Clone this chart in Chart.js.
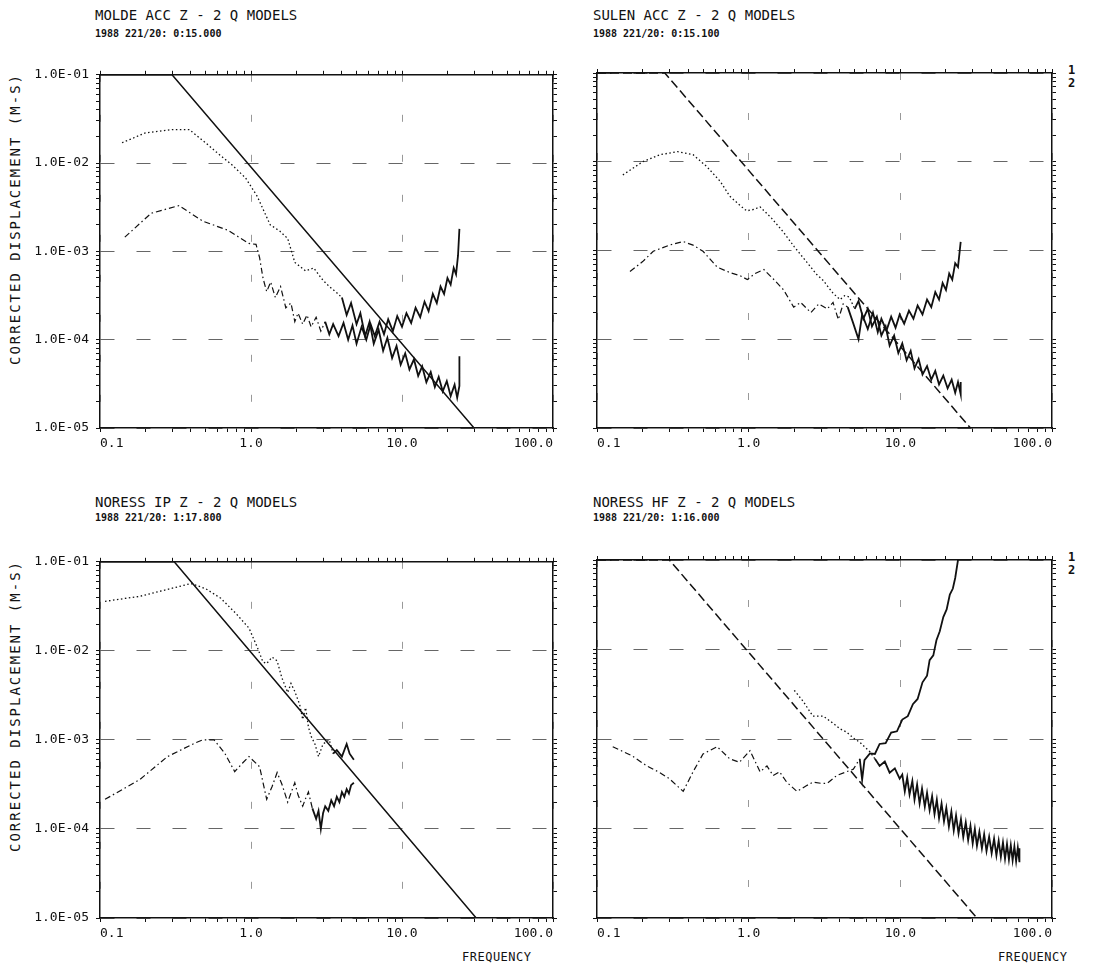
<!DOCTYPE html>
<html>
<head>
<meta charset="utf-8">
<script src="https://cdn.jsdelivr.net/npm/chart.js@4.4.1/dist/chart.umd.min.js"></script>
<style>
  body { margin: 0; background: #fff; width: 1094px; height: 973px; position: relative; overflow: hidden;
         font-family: "DejaVu Sans Mono", monospace; color: #111; }
  canvas { position: absolute; }
  .t { position: absolute; white-space: nowrap; line-height: 1; }
  .title { font-size: 14px; }
  .sub { font-size: 10px; font-weight: bold; }
  .ytitle { font-size: 14px; letter-spacing: 2px; transform: rotate(-90deg); transform-origin: 0 0; }
  .curve { font-size: 12px; font-weight: bold; }
  .xtitle { font-size: 12px; letter-spacing: 0.5px; }
</style>
</head>
<body>
<div class="t title" style="left:95px;top:8px">MOLDE ACC Z - 2 Q MODELS</div>
<div class="t sub" style="left:95px;top:29px">1988 221/20: 0:15.000</div>
<div class="t title" style="left:593px;top:8px">SULEN ACC Z - 2 Q MODELS</div>
<div class="t sub" style="left:593px;top:29px">1988 221/20: 0:15.100</div>
<div class="t title" style="left:95px;top:495px">NORESS IP Z - 2 Q MODELS</div>
<div class="t sub" style="left:95px;top:513px">1988 221/20: 1:17.800</div>
<div class="t title" style="left:593px;top:495px">NORESS HF Z - 2 Q MODELS</div>
<div class="t sub" style="left:593px;top:513px">1988 221/20: 1:16.000</div>

<div class="t ytitle" style="left:8px;top:365px">CORRECTED DISPLACEMENT (M-S)</div>
<div class="t ytitle" style="left:8px;top:852px">CORRECTED DISPLACEMENT (M-S)</div>

<div class="t curve" style="left:1068px;top:64px">1</div>
<div class="t curve" style="left:1068px;top:77px">2</div>
<div class="t curve" style="left:1068px;top:551px">1</div>
<div class="t curve" style="left:1068px;top:564px">2</div>

<div class="t xtitle" style="left:462px;top:951px">FREQUENCY</div>
<div class="t xtitle" style="left:998px;top:951px">FREQUENCY</div>

<canvas id="molde" width="575" height="420" style="left:0;top:60px"></canvas>
<canvas id="sulen" width="519" height="420" style="left:575px;top:60px"></canvas>
<canvas id="noressIp" width="575" height="426" style="left:0;top:547px"></canvas>
<canvas id="noressHf" width="519" height="426" style="left:575px;top:547px"></canvas>

<script>
// axis ticks
const xMajor = [0.1, 1, 10, 100];
const xMajorLabels = ["0.1", "1.0", "10.0", "100.0"];
const yMajor = [1e-5, 1e-4, 1e-3, 1e-2, 1e-1];
const yMajorLabels = ["1.0E-05", "1.0E-04", "1.0E-03", "1.0E-02", "1.0E-01"];
const mantissas = [1, 2, 3, 4, 5, 6, 7, 8, 9];

// MOLDE ACC Z
const moldeModelFreq = [0.1, 0.3, 30, 100];
const moldeModelDisp = [1e-1, 1e-1, 1e-5, 1e-5];
const molde1Freq = [0.14, 0.2, 0.3, 0.39, 0.5, 0.6, 0.75, 0.92, 1.1, 1.34, 1.55, 1.75, 1.95, 2.3, 2.6, 3.0, 3.3, 3.7,
  4.0, 4.3, 4.6, 5.0, 5.3, 5.7, 6.1, 6.5, 7.0, 7.5, 8.0, 8.6, 9.2, 9.8, 10.5, 11.2, 12, 12.8, 13.6, 14.5,
  15.5, 16.5, 17.5, 18.6, 19.8, 21, 22.3, 23.2, 24, 24];
const molde1Disp = [0.017, 0.022, 0.024, 0.024, 0.017, 0.013, 0.0095, 0.0068, 0.0042, 0.002, 0.0017, 0.0014, 0.00075, 0.0006, 0.00065, 0.00047, 0.0004, 0.00034,
  3.0e-4, 1.9e-4, 2.6e-4, 1.5e-4, 2.0e-4, 1.1e-4, 1.6e-4, 9e-5, 1.3e-4, 7.5e-5, 1.05e-4, 6.2e-5, 8.5e-5, 5.2e-5, 7e-5, 4.6e-5, 6e-5, 3.9e-5, 5e-5, 3.3e-5,
  4.3e-5, 2.9e-5, 3.8e-5, 2.6e-5, 3.4e-5, 2.3e-5, 3.1e-5, 2.2e-5, 3e-5, 6.5e-5];
const molde2Freq = [0.146, 0.218, 0.333, 0.48, 0.7, 0.97, 1.08, 1.14, 1.2, 1.27, 1.35, 1.45, 1.57, 1.7, 1.84, 1.95, 2.05, 2.2, 2.35, 2.5,
  2.7, 2.9, 3.1, 3.3, 3.5, 3.8, 4.1, 4.4, 4.7, 5.0, 5.4, 5.8, 6.2, 6.6, 7.1, 7.6, 8.1, 8.7, 9.3, 10,
  10.7, 11.5, 12.3, 13.2, 14.1, 15, 16, 17, 18, 19, 20, 21, 22, 22.8, 23.5, 24];
const molde2Disp = [1.45e-3, 2.7e-3, 3.3e-3, 2.2e-3, 1.74e-3, 1.23e-3, 1.2e-3, 8.5e-4, 5e-4, 3.5e-4, 4.5e-4, 3e-4, 4e-4, 2.3e-4, 2.6e-4, 1.6e-4, 2e-4, 1.5e-4, 1.9e-4, 1.4e-4,
  1.8e-4, 1.25e-4, 1.6e-4, 1.15e-4, 1.5e-4, 1.1e-4, 1.55e-4, 1.0e-4, 1.45e-4, 9e-5, 1.4e-4, 1.0e-4, 1.5e-4, 1.1e-4, 1.6e-4, 1.15e-4, 1.7e-4, 1.25e-4, 1.85e-4, 1.4e-4,
  2.0e-4, 1.55e-4, 2.3e-4, 1.8e-4, 2.7e-4, 2.1e-4, 3.3e-4, 2.6e-4, 4e-4, 3.3e-4, 5e-4, 4.2e-4, 6.5e-4, 5.5e-4, 9e-4, 1.8e-3];

// SULEN ACC Z
const sulenModelFreq = [0.1, 0.28, 29, 100];
const sulenModelDisp = [1e-1, 1e-1, 1e-5, 1e-5];
const sulen1Freq = [0.148, 0.2, 0.26, 0.34, 0.43, 0.53, 0.65, 0.75, 0.88, 0.97, 1.08, 1.19, 1.42, 1.7, 2.0, 2.4, 2.8, 3.1, 3.3, 3.6,
  4.0, 4.3, 4.6, 5.0, 5.3, 5.7, 6.1, 6.5, 7.0, 7.5, 8.0, 8.5, 9.1, 9.7, 10.3, 11, 11.7, 12.4, 13.2, 14,
  15, 16, 17, 18, 19.2, 20.5, 21.8, 23, 24, 25, 25];
const sulen1Disp = [7.1e-3, 1e-2, 1.2e-2, 1.3e-2, 1.2e-2, 8.8e-3, 6e-3, 4.1e-3, 3.2e-3, 2.8e-3, 2.9e-3, 3.1e-3, 2.3e-3, 1.6e-3, 1.1e-3, 7.5e-4, 5.4e-4, 4.6e-4, 4e-4, 3.3e-4,
  2.8e-4, 3.1e-4, 3e-4, 2.2e-4, 2.7e-4, 1.7e-4, 2.2e-4, 1.4e-4, 1.8e-4, 1.1e-4, 1.4e-4, 8.5e-5, 1.1e-4, 7e-5, 9e-5, 5.8e-5, 7.4e-5, 4.7e-5, 6e-5, 4e-5,
  5e-5, 3.5e-5, 4.4e-5, 3.1e-5, 3.9e-5, 2.8e-5, 3.5e-5, 2.5e-5, 3.3e-5, 2.4e-5, 3.3e-5];
const sulen2Freq = [0.165, 0.2, 0.235, 0.3, 0.37, 0.43, 0.5, 0.62, 0.76, 0.88, 0.98, 1.1, 1.26, 1.45, 1.7, 1.98, 2.2, 2.57, 2.9, 3.3,
  3.6, 3.9, 4.2, 4.5, 4.9, 5.3, 5.6, 6.1, 6.6, 7.1, 7.5, 8.1, 8.7, 9.3, 9.9, 10.6, 11.4, 12.2, 13, 14,
  15, 16, 17, 18, 19, 20, 21, 22, 23, 24, 25];
const sulen2Disp = [5.8e-4, 7.5e-4, 9.8e-4, 1.15e-3, 1.26e-3, 1.15e-3, 9.8e-4, 6.5e-4, 5.6e-4, 5.2e-4, 4.7e-4, 5.5e-4, 6.1e-4, 4.8e-4, 3.6e-4, 2.3e-4, 2.6e-4, 2e-4, 2.5e-4, 2.2e-4,
  2.6e-4, 1.67e-4, 2.5e-4, 2.3e-4, 1.5e-4, 1e-4, 1.9e-4, 1.3e-4, 2e-4, 1.2e-4, 1.7e-4, 1.25e-4, 1.8e-4, 1.35e-4, 1.9e-4, 1.5e-4, 2.1e-4, 1.7e-4, 2.4e-4, 1.9e-4,
  2.8e-4, 2.3e-4, 3.4e-4, 2.8e-4, 4.3e-4, 3.6e-4, 5.5e-4, 4.7e-4, 7.2e-4, 6.5e-4, 1.25e-3];

// NORESS IP Z
const ipModelFreq = [0.1, 0.31, 31, 100];
const ipModelDisp = [1e-1, 1e-1, 1e-5, 1e-5];
const ip1Freq = [0.108, 0.184, 0.28, 0.4, 0.5, 0.63, 0.8, 0.97, 1.1, 1.2, 1.27, 1.38, 1.49, 1.6, 1.75, 1.84, 1.95, 2.1, 2.2, 2.3,
  2.4, 2.5, 2.65, 2.8, 3.0, 3.3, 3.5, 3.7, 4.0, 4.3, 4.5, 4.8];
const ip1Disp = [0.036, 0.041, 0.049, 0.057, 0.05, 0.039, 0.026, 0.018, 0.011, 0.0075, 0.0072, 0.0085, 0.0077, 0.005, 0.0034, 0.0043, 0.0035, 0.0025, 0.0017, 0.0023,
  0.0014, 0.0011, 0.0009, 0.00065, 0.0009, 0.001, 0.0007, 0.00077, 0.00065, 0.0009, 0.0007, 0.0006];
const ip2Freq = [0.108, 0.184, 0.28, 0.43, 0.48, 0.57, 0.67, 0.78, 0.88, 0.97, 1.14, 1.27, 1.38, 1.49, 1.6, 1.75, 1.85, 1.95, 2.05, 2.2,
  2.3, 2.4, 2.55, 2.7, 2.8, 2.9, 3.0, 3.1, 3.25, 3.4, 3.55, 3.7, 3.85, 4.0, 4.15, 4.3, 4.45, 4.6, 4.8];
const ip2Disp = [2.15e-4, 3.6e-4, 6.5e-4, 9.3e-4, 1e-3, 1e-3, 7.1e-4, 4.4e-4, 5.5e-4, 6.5e-4, 5e-4, 2.15e-4, 3e-4, 4.3e-4, 3.2e-4, 2e-4, 2.6e-4, 3.3e-4, 2.4e-4, 1.8e-4,
  2.2e-4, 2.6e-4, 1.7e-4, 1.3e-4, 1.6e-4, 1e-4, 1.5e-4, 1.8e-4, 1.6e-4, 2.1e-4, 1.8e-4, 2.3e-4, 2.0e-4, 2.6e-4, 2.3e-4, 2.8e-4, 2.5e-4, 3.1e-4, 3.3e-4];

// NORESS HF Z
const hfModelFreq = [0.1, 0.3, 32, 100];
const hfModelDisp = [1e-1, 1e-1, 1e-5, 1e-5];
const hf1Freq = [2.0, 2.3, 2.65, 3.1, 3.6, 4.0, 4.4, 5.0, 5.4, 5.9, 6.3, 6.8, 7.3, 7.9, 8.5, 9.2, 9.9,
  10.3, 10.7, 11.1, 11.5, 12, 12.4, 12.9, 13.4, 13.9, 14.5, 15, 15.6, 16.2, 16.8, 17.4, 18, 18.7, 19.4, 20.1, 20.9,
  21.7, 22.5, 23.3, 24.2, 25.1, 26, 27, 28, 29, 30, 31, 32, 33.2, 34.5, 35.7, 37, 38.5, 40, 41.5, 43,
  44.5, 46, 47.5, 49, 50.5, 52, 53.5, 55, 56.5, 58, 59.5, 61, 61];
const hf1Disp = [3.5e-3, 2.6e-3, 1.8e-3, 1.8e-3, 1.5e-3, 1.3e-3, 1.2e-3, 1.0e-3, 9.2e-4, 8e-4, 7.2e-4, 6e-4, 5e-4, 5.6e-4, 4.2e-4, 4.7e-4, 3.6e-4,
  4.0e-4, 2.6e-4, 3.7e-4, 2.4e-4, 3.4e-4, 2.1e-4, 3.1e-4, 1.9e-4, 2.8e-4, 1.75e-4, 2.5e-4, 1.6e-4, 2.3e-4, 1.45e-4, 2.1e-4, 1.3e-4, 1.9e-4, 1.2e-4, 1.7e-4, 1.05e-4,
  1.55e-4, 9.5e-5, 1.4e-4, 8.8e-5, 1.27e-4, 8e-5, 1.17e-4, 7.4e-5, 1.07e-4, 6.8e-5, 9.9e-5, 6.4e-5, 9.2e-5, 6e-5, 8.6e-5, 5.6e-5, 8.1e-5, 5.3e-5, 7.7e-5, 5e-5,
  7.3e-5, 4.8e-5, 7e-5, 4.6e-5, 6.7e-5, 4.5e-5, 6.5e-5, 4.4e-5, 6.3e-5, 4.3e-5, 6.1e-5, 4.2e-5, 6e-5];
const hf2Freq = [0.127, 0.17, 0.213, 0.26, 0.3, 0.37, 0.43, 0.5, 0.62, 0.75, 0.87, 1.02, 1.19, 1.32, 1.45, 1.6, 1.78, 2.08, 2.4, 2.65,
  3.0, 3.3, 3.8, 4.4, 4.9, 5.4, 5.6, 5.8, 6.3, 6.8, 7.3, 8.0, 8.7, 9.5, 10.3, 11.2, 12.1, 13, 14, 15,
  15.6, 16.5, 17.3, 18.2, 19.2, 20.2, 21.2, 22.2, 23, 24];
const hf2Disp = [8.2e-4, 6.5e-4, 5e-4, 4.2e-4, 3.6e-4, 2.6e-4, 4.3e-4, 6.8e-4, 8.2e-4, 6e-4, 5.5e-4, 7.4e-4, 4.3e-4, 5e-4, 3.9e-4, 4.3e-4, 3.3e-4, 2.6e-4, 3e-4, 3.3e-4,
  3.2e-4, 3.2e-4, 3.9e-4, 4.3e-4, 4.6e-4, 6e-4, 3.5e-4, 5.8e-4, 6.9e-4, 6.8e-4, 8.8e-4, 9.0e-4, 1.18e-3, 1.22e-3, 1.65e-3, 1.8e-3, 2.45e-3, 2.8e-3, 4.3e-3, 5.1e-3,
  7.6e-3, 8.6e-3, 1.27e-2, 1.6e-2, 2.3e-2, 2.8e-2, 4.1e-2, 4.8e-2, 6.3e-2, 0.1];

const ink = "#111";
const tickFont = { family: "DejaVu Sans Mono", size: 13 };

function withMinors(majors) {
  const out = [];
  majors.forEach((m, i) => {
    if (i === majors.length - 1) { out.push(m); return; }
    mantissas.forEach(k => out.push(m * k));
  });
  return out;
}
const xTickVals = withMinors(xMajor);
const yTickVals = withMinors(yMajor);

function majorIndex(v, majors) {
  return majors.findIndex(m => Math.abs(v / m - 1) < 1e-6);
}

function gridColor(majors, col) {
  return ctx => (ctx.tick && majorIndex(ctx.tick.value, majors) >= 0) ? col : "rgba(0,0,0,0)";
}

function logAxis(pos, min, max, tickVals, majors, labels, size, showLabels, onArea) {
  const horizontal = pos === "top" || pos === "bottom";
  return {
    type: "logarithmic",
    position: pos,
    min: min,
    max: max,
    afterBuildTicks: s => { s.ticks = tickVals.map(v => ({ value: v })); },
    afterFit: s => { if (horizontal) s.height = size; else s.width = size; },
    ticks: {
      display: showLabels,
      autoSkip: false,
      maxRotation: 0,
      align: horizontal ? "inner" : "center",
      color: ink,
      font: tickFont,
      padding: horizontal ? 4 : 7,
      callback: v => { const i = majorIndex(v, majors); return i >= 0 ? labels[i] : ""; }
    },
    grid: {
      drawOnChartArea: onArea,
      color: gridColor(majors, horizontal ? "#999" : "#666"),
      tickColor: ink,
      tickLength: 4,
      lineWidth: 1
    },
    border: { display: true, color: ink, width: 1.5, dash: horizontal ? [7, 33] : [14, 22] }
  };
}

function curve(freq, disp, dash, width, noiseFrom) {
  return {
    data: freq.map((f, i) => ({ x: f, y: disp[i] })),
    borderColor: ink,
    borderWidth: width,
    borderDash: dash,
    pointRadius: 0,
    tension: 0,
    fill: false,
    segment: {
      borderDash: ctx => ctx.p0.parsed.x >= noiseFrom ? [] : dash,
      borderWidth: ctx => ctx.p0.parsed.x >= noiseFrom ? 1.8 : width
    }
  };
}

function makeChart(id, p) {
  return new Chart(document.getElementById(id), {
    type: "line",
    data: {
      datasets: [
        curve(p.modelFreq, p.modelDisp, p.modelDash, 1.5, 1000),
        curve(p.freq1, p.disp1, [1.5, 2.5], 1.3, p.noise1),
        curve(p.freq2, p.disp2, [6, 3, 1.5, 3], 1.2, p.noise2)
      ]
    },
    options: {
      responsive: false,
      animation: false,
      events: [],
      layout: { padding: 0 },
      plugins: { legend: { display: false }, tooltip: { enabled: false } },
      scales: {
        x: logAxis("bottom", 0.1, 100, xTickVals, xMajor, xMajorLabels, p.xHeight, true, true),
        x2: logAxis("top", 0.1, 100, xTickVals, xMajor, xMajorLabels, 13, false, false),
        y: logAxis("left", 1e-5, 0.1, yTickVals, yMajor, yMajorLabels, p.yWidth, p.yLabels, true),
        y2: logAxis("right", 1e-5, 0.1, yTickVals, yMajor, yMajorLabels, p.y2Width, false, false)
      }
    }
  });
}

makeChart("molde", {
  modelFreq: moldeModelFreq, modelDisp: moldeModelDisp, modelDash: [],
  freq1: molde1Freq, disp1: molde1Disp, noise1: 4.0,
  freq2: molde2Freq, disp2: molde2Disp, noise2: 3.0,
  xHeight: 52, yWidth: 100, y2Width: 22, yLabels: true
});
makeChart("sulen", {
  modelFreq: sulenModelFreq, modelDisp: sulenModelDisp, modelDash: [9, 4],
  freq1: sulen1Freq, disp1: sulen1Disp, noise1: 5.0,
  freq2: sulen2Freq, disp2: sulen2Disp, noise2: 4.5,
  xHeight: 52, yWidth: 22, y2Width: 42, yLabels: false
});
makeChart("noressIp", {
  modelFreq: ipModelFreq, modelDisp: ipModelDisp, modelDash: [],
  freq1: ip1Freq, disp1: ip1Disp, noise1: 3.5,
  freq2: ip2Freq, disp2: ip2Disp, noise2: 2.5,
  xHeight: 55, yWidth: 100, y2Width: 22, yLabels: true
});
makeChart("noressHf", {
  modelFreq: hfModelFreq, modelDisp: hfModelDisp, modelDash: [9, 4],
  freq1: hf1Freq, disp1: hf1Disp, noise1: 6.8,
  freq2: hf2Freq, disp2: hf2Disp, noise2: 5.4,
  xHeight: 55, yWidth: 22, y2Width: 42, yLabels: false
});
</script>
</body>
</html>
